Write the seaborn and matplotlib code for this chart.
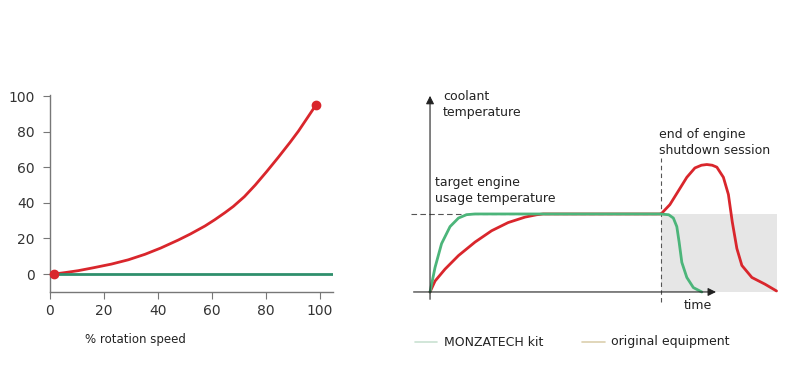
import numpy as np
import pandas as pd
import matplotlib.pyplot as plt
import seaborn as sns
from matplotlib.lines import Line2D

# left chart: power absorbed vs rotation speed
speed = [1.6, 6, 10.5, 16, 22.8, 29, 35.2, 41, 47.5, 52, 57.4, 61, 64.8, 67.9,
         72, 76, 80.2, 84.5, 88.9, 92, 95.1, 98.5]
power_original = [0, 0.9, 1.9, 3.5, 5.6, 8, 11.1, 14.6, 19.1, 22.5, 27, 30.5,
                  34.5, 38, 43.5, 50, 57.5, 65.5, 74, 80.3, 87.3, 95]
speed_kit = [1.6, 105]
power_kit = [0, 0]

# right chart: coolant temperature vs time (schematic units)
t_kit = [0, 1.3, 3.0, 5.2, 7.4, 9.5, 11.7, 30, 59.7, 62, 63.2, 64.1, 64.7,
         65.4, 66.7, 68.4, 70.6]
temp_kit = [0, 31.4, 62, 83.8, 94.8, 99.1, 100, 100, 100, 99, 94.8, 83.8, 64,
            38, 18.6, 5.6, 0]
t_orig = [0, 1.3, 3.9, 7.4, 11.7, 16, 20.3, 24.7, 27.7, 29.4, 45, 59.7, 60.2,
          62.3, 64.5, 66.7, 68.8, 70.5, 71.9, 73.3, 74.5, 76.2, 77.5, 78.5,
          79.7, 81, 83.6, 87, 90]
temp_orig = [0, 14, 29.3, 46.7, 64, 78.5, 89, 96, 99, 100, 100, 100, 101,
             112, 129.5, 147, 159, 162.5, 163.4, 162.5, 160, 147, 125, 90,
             55.7, 34, 18.6, 10, 1.3]
target_temp = 100
shutdown_t = 60
shade_end = 90

red = "#d9262c"
green_dark = "#2f8f6c"
green = "#4cb57a"
txt = "#222222"

sns.set_style("white")
plt.rcParams['font.family'] = ['DejaVu Sans']

fig = plt.figure(figsize=(8, 3.79), dpi=100)

# ---- left chart
ax1 = fig.add_axes([50/800, 1-292/379, 283/800, 197/379])
df1 = pd.DataFrame({"speed": speed, "power": power_original})
sns.lineplot(data=df1, x="speed", y="power", ax=ax1, color=red, lw=2,
             solid_joinstyle="round")
sns.lineplot(x=speed_kit, y=power_kit, ax=ax1, color=green_dark, lw=2)
ax1.plot([speed[0], speed[-1]], [power_original[0], power_original[-1]],
         "o", color=red, ms=6, clip_on=False, zorder=5)
ax1.set_xlim(0, 104.8)
ax1.set_ylim(-10.1, 100.6)
ax1.set_xticks(range(0, 101, 20))
ax1.set_yticks(range(0, 101, 20))
for s in ["top", "right"]:
    ax1.spines[s].set_visible(False)
for s in ["left", "bottom"]:
    ax1.spines[s].set_color("#777777")
    ax1.spines[s].set_linewidth(1)
ax1.tick_params(axis="both", direction="out", length=5, color="#777777",
                labelsize=10, labelcolor="#333333", left=True, bottom=True)
ax1.tick_params(axis="y", pad=6)
ax1.set_xlabel("")
ax1.set_ylabel("")
fig.text(135/800, 1-340/379, "% rotation speed", ha="center", va="center",
         fontsize=8.5, color=txt)

# ---- right chart
ax2 = fig.add_axes([405/800, 1-305/379, 385/800, 217/379])
ax2.set_xlim(-6.5, 93.5)
ax2.set_ylim(-16.7, 261.5)
ax2.axis("off")
ax2.fill_between([shutdown_t, shade_end], 0, target_temp, color="#e6e6e6", lw=0)
ax2.plot([-5, shutdown_t], [target_temp, target_temp], color="#555555",
         lw=0.8, ls=(0, (5, 3)))
ax2.plot([shutdown_t, shutdown_t], [-13, 172], color="#555555",
         lw=0.8, ls=(0, (4, 3)))
ax2.annotate("", xy=(0, 255), xytext=(0, -13),
             arrowprops=dict(arrowstyle="-|>", color="#222222", lw=0.8,
                             mutation_scale=12))
ax2.annotate("", xy=(75, 0), xytext=(-5, 0),
             arrowprops=dict(arrowstyle="-|>", color="#222222", lw=0.8,
                             mutation_scale=12))
sns.lineplot(x=t_orig, y=temp_orig, ax=ax2, color=red, lw=2, sort=False,
             solid_joinstyle="round")
sns.lineplot(x=t_kit, y=temp_kit, ax=ax2, color=green, lw=2, sort=False,
             solid_joinstyle="round")

ax2.text(3.4, 259, "coolant\ntemperature", ha="left", va="top",
         fontsize=9, color=txt, linespacing=1.3)
ax2.text(59.5, 210, "end of engine\nshutdown session", ha="left", va="top",
         fontsize=9, color=txt, linespacing=1.3)
ax2.text(1.3, 149, "target engine\nusage temperature", ha="left", va="top",
         fontsize=9, color=txt, linespacing=1.3)
ax2.text(66, -9, "time", ha="left", va="top", fontsize=9, color=txt)

# legend
ly = 1 - 342/379
fig.add_artist(Line2D([415/800, 437/800], [ly, ly], color="#c9e2d2", lw=1.2))
fig.text(444/800, ly, "MONZATECH kit", ha="left", va="center",
         fontsize=9, color=txt)
fig.add_artist(Line2D([582/800, 605/800], [ly, ly], color="#dcd0ae", lw=1.2))
fig.text(611/800, ly, "original equipment", ha="left", va="center",
         fontsize=9, color=txt)

fig.savefig("out.png", dpi=100)
